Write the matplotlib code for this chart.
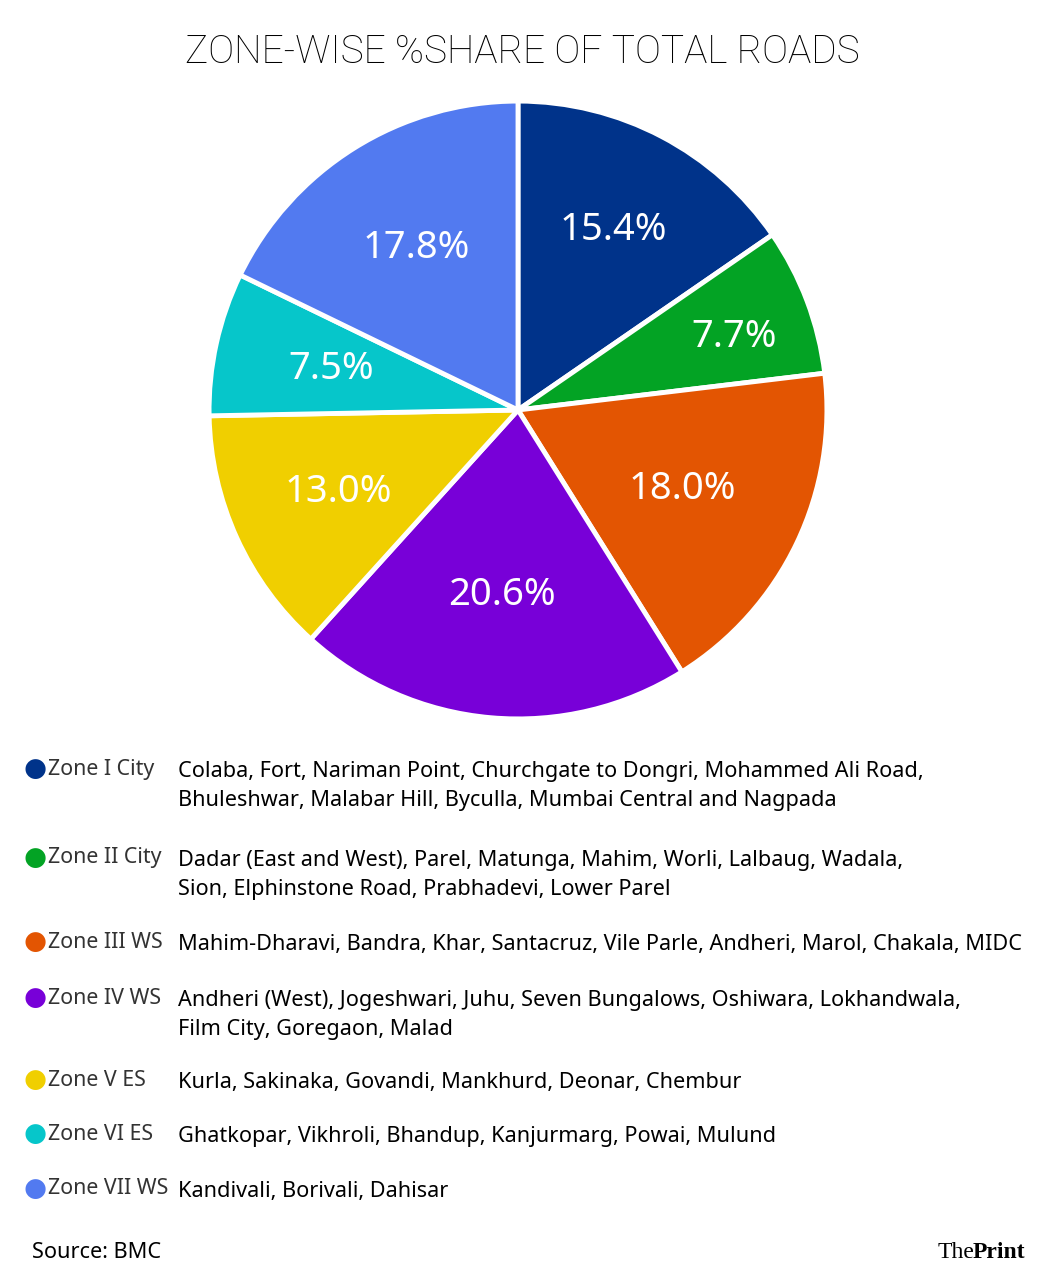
import numpy as np
import matplotlib.pyplot as plt

zones = ["Zone I City", "Zone II City", "Zone III WS", "Zone IV WS",
         "Zone V ES", "Zone VI ES", "Zone VII WS"]
shares = [15.4, 7.7, 18.0, 20.6, 13.0, 7.5, 17.8]
colors = ["#00338a", "#03a324", "#e35502", "#7800d8",
          "#f0cf00", "#06c6ca", "#527af0"]
areas = [
    "Colaba, Fort, Nariman Point, Churchgate to Dongri, Mohammed Ali Road,\n"
    "Bhuleshwar, Malabar Hill, Byculla, Mumbai Central and Nagpada",
    "Dadar (East and West), Parel, Matunga, Mahim, Worli, Lalbaug, Wadala,\n"
    "Sion, Elphinstone Road, Prabhadevi, Lower Parel",
    "Mahim-Dharavi, Bandra, Khar, Santacruz, Vile Parle, Andheri, Marol, Chakala, MIDC",
    "Andheri (West), Jogeshwari, Juhu, Seven Bungalows, Oshiwara, Lokhandwala,\n"
    "Film City, Goregaon, Malad",
    "Kurla, Sakinaka, Govandi, Mankhurd, Deonar, Chembur",
    "Ghatkopar, Vikhroli, Bhandup, Kanjurmarg, Powai, Mulund",
    "Kandivali, Borivali, Dahisar",
]

W, H = 1044, 1279
fig = plt.figure(figsize=(W / 100, H / 100), dpi=100)
fig.patch.set_facecolor("white")

# pie axes: center ~ (518, 410) px, radius ~ 310 px
cx, cy, r = 518, 410, 312
ax = fig.add_axes([(cx - r) / W, 1 - (cy + r) / H, 2 * r / W, 2 * r / H])
wedges, _, autotexts = ax.pie(
    shares, colors=colors, startangle=90, counterclock=False,
    autopct=lambda p: f"{p:.1f}%", pctdistance=0.63,
    wedgeprops=dict(edgecolor="white", linewidth=3.5, joinstyle="round"),
    textprops=dict(color="white", fontsize=27.5, family="Noto Sans"),
)
# label radius / angle nudge per slice, as placed in the original
label_r = [0.66, 0.74, 0.59, 0.60, 0.64, 0.62, 0.62]
label_da = [0, -2, 0, 0, 0, 0, 0]
for w, txt, rr, da in zip(wedges, autotexts, label_r, label_da):
    ang = np.deg2rad((w.theta1 + w.theta2) / 2 + da)
    txt.set_position((rr * np.cos(ang), rr * np.sin(ang)))

ax.set_xlim(-1.01, 1.01)
ax.set_ylim(-1.01, 1.01)
ax.set_aspect("equal")
ax.axis("off")

fig.text(0.5, 1 - 52 / H, "ZONE-WISE %SHARE OF TOTAL ROADS",
         ha="center", va="center", fontsize=28,
         family="Roboto", weight="light", color="black")

# legend rows
row_y = [769, 858, 942, 998, 1080, 1134, 1189]
for y, zone, color, desc in zip(row_y, zones, colors, areas):
    fig.text(35 / W, 1 - y / H, "\u25CF", ha="center", va="center",
             fontsize=19, color=color, family="DejaVu Sans")
    fig.text(48 / W, 1 - y / H, zone, ha="left", va="center",
             fontsize=15.4, color="#333333", family="Noto Sans")
    fig.text(178 / W, 1 - (y - 8) / H, desc, ha="left", va="top",
             fontsize=15.6, color="black", family="Noto Sans",
             linespacing=1.52)

fig.text(32 / W, 1 - 1252 / H, "Source: BMC", ha="left", va="center",
         fontsize=15.6, color="black", family="Noto Sans")

fig.text(938 / W, 1 - 1252 / H, "The", ha="left", va="center",
         fontsize=17, color="black", family="Liberation Serif")
fig.text(973 / W, 1 - 1252 / H, "Print", ha="left", va="center",
         fontsize=17, color="black", family="Liberation Serif",
         weight="bold")

fig.savefig("out.png", dpi=100, facecolor="white")
